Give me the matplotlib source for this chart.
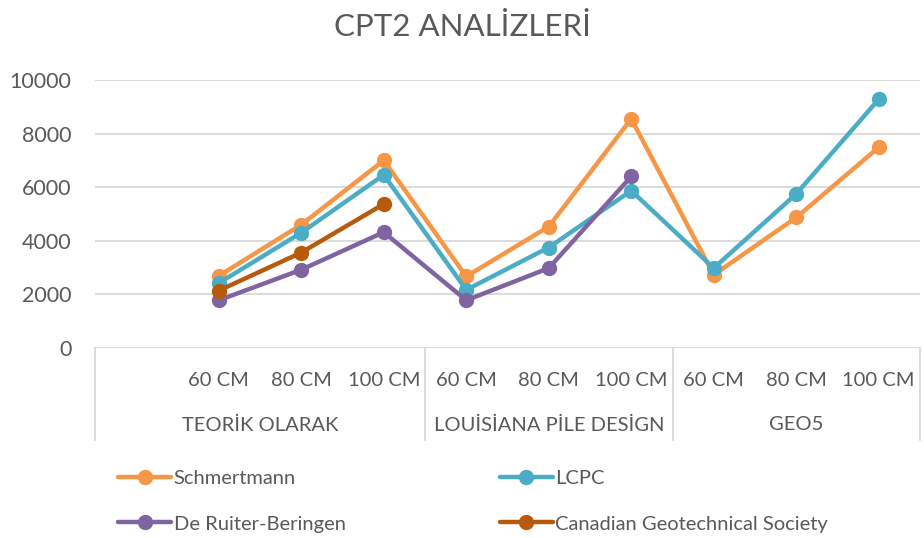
import numpy as np
import matplotlib.pyplot as plt
import matplotlib.transforms as mtransforms

plt.rcParams['font.family'] = ['Lato', 'DejaVu Sans']

# kategoriler: ilk slot bos
alt_etiket = ["", "60 CM", "80 CM", "100 CM", "60 CM", "80 CM", "100 CM", "60 CM", "80 CM", "100 CM"]
gruplar = ["TEORİK OLARAK", "LOUİSİANA PİLE DESİGN", "GEO5"]
grup_sinir = [0, 4, 7, 10]

nan = np.nan
schmertmann = [nan, 2690, 4600, 7000, 2670, 4530, 8550, 2730, 4870, 7490]
lcpc = [nan, 2420, 4300, 6460, 2170, 3750, 5870, 2980, 5750, 9280]
de_ruiter = [nan, 1780, 2920, 4320, 1780, 2980, 6400, nan, nan, nan]
canadian = [nan, 2140, 3560, 5370, nan, nan, nan, nan, nan, nan]

renk_yazi = "#595959"
renk_izgara = "#D9D9D9"

fig = plt.figure(figsize=(9.24, 5.38), dpi=100)
ax = fig.add_axes([95/924, 1-348/538, 825/924, 268/538])

x = np.arange(len(alt_etiket)) + 0.5
seriler = [
    ("Schmertmann", schmertmann, "#F79646"),
    ("LCPC", lcpc, "#4BACC6"),
    ("De Ruiter-Beringen", de_ruiter, "#8064A2"),
    ("Canadian Geotechnical Society", canadian, "#B85A0C"),
]
cizgiler = {}
for ad, deger, renk in seriler:
    l, = ax.plot(x, deger, color=renk, lw=3.2, marker="o", ms=10,
                 solid_capstyle="round", label=ad)
    cizgiler[ad] = l

ax.set_xlim(0, 10)
ax.set_ylim(0, 10000)
ax.set_yticks(np.arange(0, 10001, 2000))
ax.yaxis.grid(True, color=renk_izgara, lw=1.3)
ax.set_axisbelow(True)
ax.set_xticks([])
for s in ax.spines.values():
    s.set_visible(False)
ax.tick_params(axis="y", length=0, pad=17, labelsize=15.5, labelcolor=renk_yazi)

# cok seviyeli kategori ekseni
tr = mtransforms.blended_transform_factory(ax.transData, ax.transAxes)
for b in grup_sinir:
    ax.plot([b, b], [0, -92/268], transform=tr, color=renk_izgara, lw=1.3, clip_on=False)
for xi, et in zip(x, alt_etiket):
    ax.text(xi, -32/268, et, transform=tr, ha="center", va="center",
            fontsize=14.5, color=renk_yazi)
for i, g in enumerate(gruplar):
    orta = (grup_sinir[i] + grup_sinir[i+1]) / 2
    ax.text(orta, -77/268, g, transform=tr, ha="center", va="center",
            fontsize=14.5, color=renk_yazi)

fig.text(0.5, 1-27/538, "CPT2 ANALİZLERİ", ha="center", va="center",
         fontsize=22.5, color=renk_yazi)

sira = ["Schmertmann", "De Ruiter-Beringen", "LCPC", "Canadian Geotechnical Society"]
fig.legend([cizgiler[s] for s in sira], sira, ncol=2, loc="upper left",
           bbox_to_anchor=(100/924, 1-452/538), frameon=False,
           fontsize=14.5, labelcolor=renk_yazi, handlelength=2.65,
           handletextpad=0.1, columnspacing=7.65, labelspacing=1.4)

fig.savefig("out.png", dpi=100)
